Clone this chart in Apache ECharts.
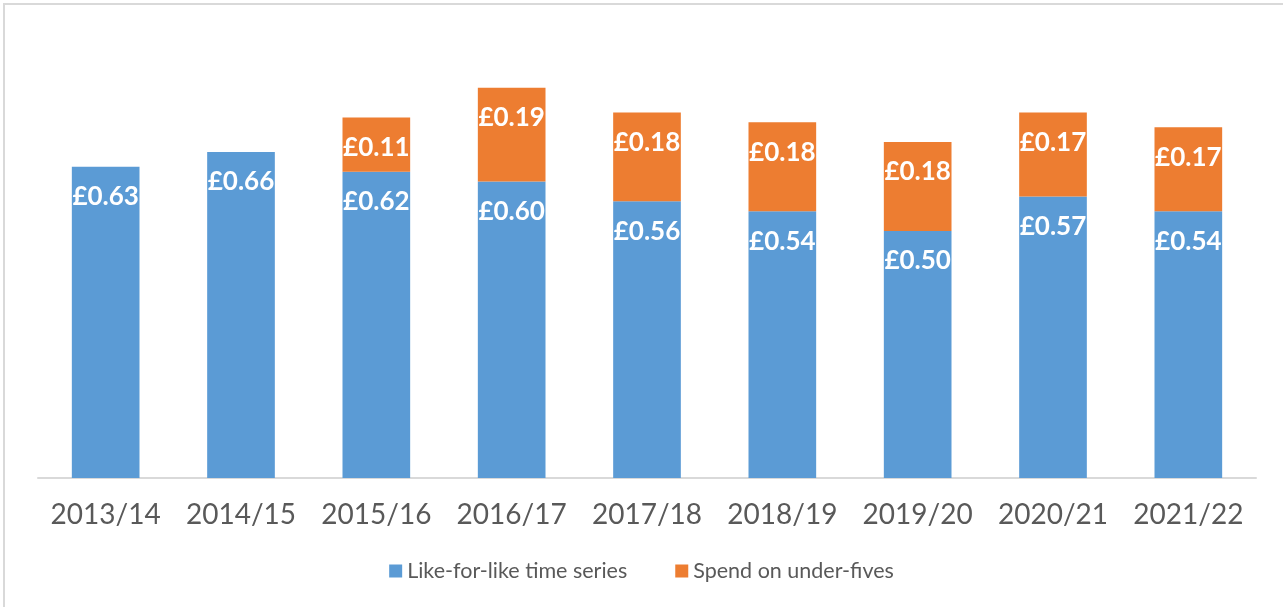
<!DOCTYPE html>
<html>
<head>
<meta charset="utf-8">
<script src="https://cdn.jsdelivr.net/npm/echarts@6/dist/echarts.min.js"></script>
<style>
  html, body { margin: 0; padding: 0; background: #fff; }
  #frame {
    position: absolute; left: 3px; top: 3px; width: 1290px; height: 620px;
    border-left: 2px solid #d9d9d9; border-top: 2px solid #d9d9d9;
  }
  #chart { position: absolute; left: 0; top: 0; width: 1283px; height: 607px; }
</style>
</head>
<body>
<div id="frame"></div>
<div id="chart"></div>
<script>
// 年度
var years = ['2013/14', '2014/15', '2015/16', '2016/17', '2017/18', '2018/19', '2019/20', '2020/21', '2021/22'];
var likeForLike = [0.63, 0.66, 0.62, 0.60, 0.56, 0.54, 0.50, 0.57, 0.54];
var underFives = [null, null, 0.11, 0.19, 0.18, 0.18, 0.18, 0.17, 0.17];
var seriesNames = ['Like-for-like time series', 'Spend on under-fives'];

var FONT = 'Lato, "Open Sans", sans-serif';

var chart = echarts.init(document.getElementById('chart'));

var barLabel = {
  show: true,
  position: 'insideTop',
  distance: 17,
  color: '#ffffff',
  fontWeight: 'bold',
  fontSize: 26,
  fontFamily: FONT,
  formatter: function (p) { return '£' + p.value.toFixed(2); }
};

var options = {
  animation: false,
  grid: { left: 38, right: 27, top: 33.4, bottom: 129 },
  legend: {
    data: seriesNames,
    bottom: 20,
    left: 'center',
    icon: 'rect',
    itemWidth: 13,
    itemHeight: 13,
    itemGap: 48,
    textStyle: { color: '#595959', fontSize: 21.5, fontFamily: FONT }
  },
  xAxis: {
    type: 'category',
    data: years,
    axisLine: { lineStyle: { color: '#d9d9d9', width: 2 } },
    axisTick: { show: false },
    axisLabel: { interval: 0, color: '#595959', fontSize: 28, fontFamily: FONT, margin: 23 }
  },
  yAxis: {
    type: 'value',
    min: 0,
    max: 0.9,
    show: false,
    splitLine: { show: false }
  },
  series: [
    {
      name: seriesNames[0],
      type: 'bar',
      stack: 'total',
      barWidth: '50%',
      data: likeForLike,
      itemStyle: { color: '#5b9bd5' },
      label: barLabel
    },
    {
      name: seriesNames[1],
      type: 'bar',
      stack: 'total',
      barWidth: '50%',
      data: underFives,
      itemStyle: { color: '#ed7d31' },
      label: barLabel
    }
  ]
};

chart.setOption(options);
</script>
</body>
</html>
